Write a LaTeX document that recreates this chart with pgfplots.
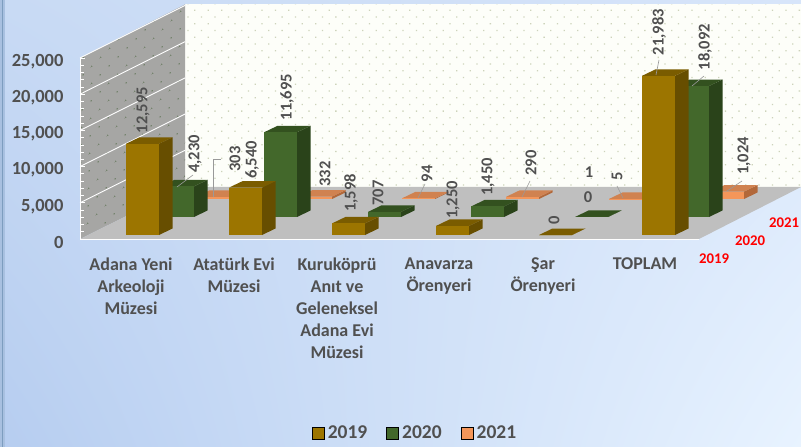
\documentclass[border=0pt]{standalone}
\usepackage{fontspec}
\setmainfont{Carlito}
\usepackage{pgfplots}
\pgfplotsset{compat=1.18}
\usetikzlibrary{patterns.meta,shadings}
\definecolor{txt}{HTML}{505050}
\definecolor{AF}{HTML}{9C7500}\definecolor{AS}{HTML}{674E00}\definecolor{AT}{HTML}{7A5C00}
\definecolor{BF}{HTML}{43682B}\definecolor{BS}{HTML}{2A431A}\definecolor{BT}{HTML}{33511F}
\definecolor{CF}{HTML}{F4965A}\definecolor{CS}{HTML}{B2683A}\definecolor{CT}{HTML}{D08250}
\definecolor{bgLL}{HTML}{B6CDF0}\definecolor{bgUL}{HTML}{C8DAF4}
\definecolor{bgUR}{HTML}{D7E5FA}\definecolor{bgLR}{HTML}{E8F3FF}
\definecolor{stripA}{HTML}{A8C0E0}\definecolor{stripB}{HTML}{7D9DBF}
\definecolor{wallW}{HTML}{FDFEF9}\definecolor{dotW}{HTML}{CDD3BA}
\definecolor{wallL}{HTML}{A6A6A4}\definecolor{dotL}{HTML}{6A7C62}
\definecolor{floorC}{HTML}{BFBFBF}
\newcommand{\tdbar}[4]{%
 \edef\xa{\fpeval{#1}}\edef\xb{\fpeval{#1+33}}\edef\xc{\fpeval{#1+46.5}}\edef\xd{\fpeval{#1+13.5}}%
 \edef\ya{\fpeval{#3}}\edef\yb{\fpeval{#3+#2}}\edef\yc{\fpeval{#3+#2+898}}\edef\ye{\fpeval{#3+898}}%
 \addplot[forget plot,fill=#4S,draw=none] coordinates {(\xb,\ya)(\xc,\ye)(\xc,\yc)(\xb,\yb)} --cycle;
 \addplot[forget plot,fill=#4T,draw=none] coordinates {(\xa,\yb)(\xb,\yb)(\xc,\yc)(\xd,\yc)} --cycle;
 \addplot[forget plot,fill=#4F,draw=none] coordinates {(\xa,\ya)(\xb,\ya)(\xb,\yb)(\xa,\yb)} --cycle;
}
\begin{document}
\begin{tikzpicture}
\useasboundingbox (0,0) rectangle (801pt,447pt);
\begin{scope}[x=1pt,y=-1pt,yshift=447pt]
\shade[lower left=bgLL,upper left=bgUL,upper right=bgUR,lower right=bgLR] (0,0) rectangle (801,447);
\fill[stripA] (0,0) rectangle (4.5,447);
\fill[stripB] (1.5,0) rectangle (3.2,447);
% walls and floor
\fill[wallW] (185,4.5) -- (801,4.5) -- (801,187) -- (185,187) -- cycle;
\fill[pattern={Dots[radius=0.9pt,distance=9.5pt,angle=45]},pattern color=dotW] (185,4.5) -- (801,4.5) -- (801,187) -- (185,187) -- cycle;
\fill[wallL] (80,58) -- (185,4.5) -- (185,187) -- (80,239) -- cycle;
\fill[pattern={Dots[radius=0.9pt,distance=13pt,angle=45]},pattern color=dotL] (80,58) -- (185,4.5) -- (185,187) -- (80,239) -- cycle;
\fill[floorC] (80,239) -- (185,187) -- (801,187) -- (699,239) -- cycle;
\foreach \k in {1,2,3,4,5}{\draw[white,line width=0.9pt] (80,239-\k*36.2) -- (185,239-\k*36.2-52.5);}
\draw[white,line width=1pt] (699,239.5) -- (80,239.5);
\draw[white,line width=0.8pt] (80,58) -- (80,239);
\end{scope}
\begin{axis}[
  at={(80pt,208pt)},anchor=south west,scale only axis,width=721pt,height=181pt,
  xmin=80,xmax=801,ymin=0,ymax=25000,clip=false,
  axis line style={draw=none},
  tick pos=left,
  ytick={0,5000,10000,15000,20000,25000},
  minor y tick num=4,
  scaled y ticks=false,
  /pgf/number format/1000 sep={,},
  /pgf/number format/assume math mode=true,
  y tick style={white,line width=0.7pt},
  major tick length=5pt,minor tick length=4pt,
  y tick label style={font=\fontsize{18.5}{20}\selectfont\bfseries,text=txt,xshift=-13pt,yshift=-3.5pt},
  xtick={131,234,337,439,543,645},
  xticklabels={Adana Yeni\\Arkeoloji\\Müzesi,Atatürk Evi\\Müzesi,Kuruköprü\\Anıt ve\\Geleneksel\\Adana Evi\\Müzesi,Anavarza\\Örenyeri,Şar\\Örenyeri,TOPLAM},
  x tick style={draw=none},
  x tick label style={font=\fontsize{18}{22}\selectfont\bfseries,text=txt,align=center,anchor=north,yshift=-15pt},
  legend columns=3,
  legend style={at={(axis cs:415,-26795)},anchor=center,draw=none,fill=none,text=txt,
    font=\fontsize{19.5}{21}\selectfont\bfseries,
    /tikz/every even column/.append style={column sep=17pt},
    /tikz/every odd column/.append style={column sep=1.5pt}},
  legend image code/.code={\fill[#1] (0pt,-6pt) rectangle (12pt,6pt);},
]
% row 2021
\tdbar{196}{303}{5525}{C}
\tdbar{299}{332}{5525}{C}
\tdbar{402}{94}{5525}{C}
\tdbar{506}{290}{5525}{C}
\tdbar{609}{5}{5525}{C}
\tdbar{711}{1024}{5525}{C}
% row 2020
\tdbar{161}{4230}{3039}{B}
\tdbar{264}{11695}{3039}{B}
\tdbar{368}{707}{3039}{B}
\tdbar{471}{1450}{3039}{B}
\tdbar{575}{0}{3039}{B}
\tdbar{676}{18092}{3039}{B}
% row 2019
\tdbar{126}{12595}{552}{A}
\tdbar{229}{6540}{552}{A}
\tdbar{332}{1598}{552}{A}
\tdbar{436}{1250}{552}{A}
\tdbar{539}{0}{552}{A}
\tdbar{642}{21983}{552}{A}
\addlegendimage{fill=AF}\addlegendentry{2019}
\addlegendimage{fill=BF}\addlegendentry{2020}
\addlegendimage{fill=CF}\addlegendentry{2021}
\end{axis}
\begin{scope}[x=1pt,y=-1pt,yshift=447pt]
\begin{scope}[gray!80,line width=0.6pt]
\draw (193,175) -- (177,187);
\draw (221,159) -- (213,159) -- (213,197);
\draw (659,60) -- (656,75);
\draw (704,76) -- (692,86);
\draw (742,181) -- (727,191);
\draw (425,184) -- (418,198);
\draw (530,181) -- (522,197);
\draw (617,186) -- (623,198);
\end{scope}
\begin{scope}[every node/.style={font=\fontsize{16.5}{18}\selectfont\bfseries,text=txt,inner sep=0pt,anchor=center}]
\node[rotate=90] at (143,110) {12,595};
\node[rotate=90] at (195,154) {4,230};
\node[rotate=90] at (235,159) {303};
\node[rotate=90] at (252,160) {6,540};
\node[rotate=90] at (287,97) {11,695};
\node[rotate=90] at (325,174) {332};
\node[rotate=90] at (351,193) {1,598};
\node[rotate=90] at (378,193) {707};
\node[rotate=90] at (427,174) {94};
\node[rotate=90] at (453,200) {1,250};
\node[rotate=90] at (488,177) {1,450};
\node[rotate=90] at (531,163) {290};
\node at (589,172) {1};
\node at (588,197) {0};
\node[rotate=90] at (554,220) {0};
\node[rotate=90] at (617,176) {5};
\node[rotate=90] at (659,32) {21,983};
\node[rotate=90] at (705,47) {18,092};
\node[rotate=90] at (744,156) {1,024};
\end{scope}
\begin{scope}[every node/.style={font=\fontsize{14.8}{16}\selectfont\bfseries,text=red,inner sep=0pt}]
\node at (784,223) {2021};
\node at (750,241) {2020};
\node at (714,259) {2019};
\end{scope}
\end{scope}
\end{tikzpicture}
\end{document}
